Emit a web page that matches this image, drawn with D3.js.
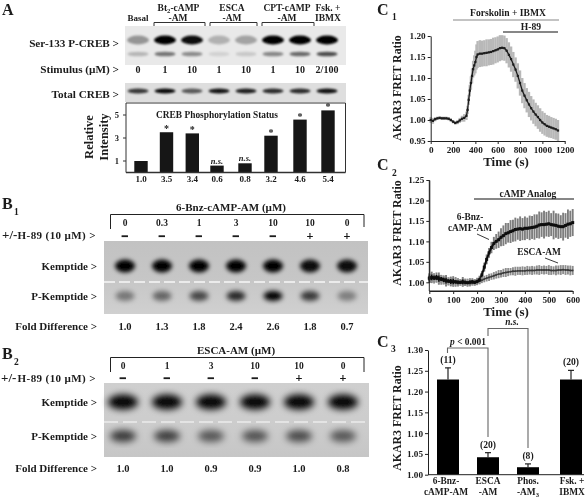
<!DOCTYPE html>
<html><head><meta charset="utf-8">
<script src="https://cdnjs.cloudflare.com/ajax/libs/d3/7.8.5/d3.min.js"></script>
<style>
html,body{margin:0;padding:0;background:#fff}
svg{display:block}
text{font-family:"Liberation Serif",serif;font-weight:700;fill:#1a1a1a}
</style></head><body><div id="c"></div>
<script>
// Panel A
const aGroups=["0","1","10","1","10","1","10","2/100"];
const aBars=[1.0,3.5,3.4,0.6,0.8,3.2,4.6,5.4];
const aBarLabels=["1.0","3.5","3.4","0.6","0.8","3.2","4.6","5.4"];
const aMarks=["","*","*","n.s.","n.s.","*","*","*"];
const aTicks=[1,3,5];
const pCrebUpper=[.36,1,.95,.24,.3,1,1,1];
const pCrebLower=[.22,.5,.4,.1,.14,.42,.55,.68];
const totalCreb=[.75,.95,.6,.9,.85,.8,.8,.92];
// Panel B
const b1Dose=["0","0.3","1","3","10","10","0"];
const b1H89=["\u2212","\u2212","\u2212","\u2212","\u2212","+","+"];
const b1Fold=["1.0","1.3","1.8","2.4","2.6","1.8","0.7"];
const b1Kemp=[1,1,1,1,1,.95,.95];
const b1PKemp=[.42,.5,.65,.8,1,.72,.38];
const b2Dose=["0","1","3","10","10","0"];
const b2H89=["\u2212","\u2212","\u2212","\u2212","+","+"];
const b2Fold=["1.0","1.0","0.9","0.9","1.0","0.8"];
const b2Kemp=[1,1,1,1,1,1];
const b2PKemp=[.72,.7,.58,.6,.64,.58];
// Panel C1
const c1Time=[0,20,40,60,80,100,120,140,160,180,200,220,240,260,280,300,320,330,340,350,360,370,380,390,400,410,420,440,460,480,500,520,540,560,580,600,620,640,660,680,700,720,740,760,780,800,820,840,860,880,900,920,940,960,980,1000,1020,1040,1060,1080,1100,1120,1140];
const c1Mean=[1.0,.998,1.002,1.004,1.005,1.004,1.004,1.004,1.003,1.0,.996,.993,.995,.999,1.003,1.005,1.01,1.024,1.048,1.07,1.088,1.105,1.121,1.13,1.138,1.15,1.156,1.158,1.158,1.159,1.16,1.161,1.162,1.164,1.166,1.168,1.171,1.172,1.171,1.165,1.155,1.145,1.132,1.12,1.105,1.088,1.07,1.058,1.047,1.037,1.028,1.02,1.013,1.007,1.0,.994,.99,.986,.984,.982,.98,.978,.975];
const c1Err=[.007,.007,.005,.004,.004,.004,.004,.004,.004,.004,.004,.004,.005,.006,.007,.009,.01,.01,.012,.014,.016,.018,.02,.024,.027,.03,.032,.032,.031,.031,.032,.031,.031,.032,.031,.031,.031,.03,.03,.03,.03,.03,.03,.029,.03,.03,.03,.03,.029,.03,.029,.029,.028,.028,.028,.027,.027,.026,.026,.025,.025,.025,.025];
const c1XTicks=[0,200,400,600,800,1000,1200];
const c1YTicks=[.95,1,1.05,1.1,1.15,1.2];
// Panel C2
const c2Time=[0,10,20,30,40,50,60,70,80,90,100,110,120,130,140,150,160,170,180,190,200,210,220,230,240,250,260,270,280,290,300,310,320,330,340,350,360,370,380,390,400,410,420,430,440,450,460,470,480,490,500,510,520,530,540,550,560,570,580,590,600];
const c2Bnz=[1.01,1.012,1.011,1.012,1.009,1.008,1.006,1.004,1.003,1.002,1.002,1.001,1,1,1.001,1,.999,1,1.001,1,1.002,1.006,1.018,1.037,1.056,1.072,1.085,1.095,1.1,1.104,1.11,1.114,1.119,1.121,1.124,1.126,1.129,1.13,1.131,1.13,1.132,1.132,1.133,1.134,1.135,1.137,1.14,1.141,1.141,1.142,1.143,1.141,1.14,1.139,1.137,1.136,1.136,1.139,1.142,1.143,1.146];
const c2BnzErr=[.012,.014,.011,.012,.015,.01,.011,.014,.009,.012,.013,.009,.01,.008,.012,.009,.008,.01,.009,.008,.009,.01,.01,.011,.012,.012,.014,.016,.018,.02,.022,.025,.026,.024,.028,.027,.029,.026,.03,.027,.029,.026,.03,.028,.031,.029,.033,.03,.034,.03,.032,.028,.035,.03,.031,.028,.034,.03,.036,.032,.033];
const c2Esca=[1.009,1.01,1.009,1.008,1.007,1.006,1.005,1.003,1.002,1.002,1.001,1.001,1,1,1,.999,.999,1,1,1,1.001,1.003,1.005,1.008,1.01,1.012,1.014,1.016,1.018,1.02,1.021,1.023,1.024,1.025,1.026,1.027,1.027,1.028,1.028,1.028,1.028,1.029,1.029,1.029,1.029,1.03,1.03,1.03,1.03,1.03,1.03,1.029,1.029,1.029,1.03,1.03,1.031,1.03,1.03,1.029,1.029];
const c2EscaErr=[.01,.01,.012,.009,.01,.012,.01,.009,.01,.008,.01,.012,.009,.008,.009,.008,.01,.008,.007,.008,.007,.008,.007,.008,.008,.009,.008,.009,.009,.01,.009,.01,.011,.01,.009,.01,.011,.01,.01,.011,.01,.011,.01,.011,.01,.011,.012,.01,.011,.01,.012,.011,.01,.012,.011,.012,.011,.012,.011,.012,.011];
const c2XTicks=[0,100,200,300,400,500,600];
const c2YTicks=[1,1.05,1.1,1.15,1.2,1.25];
// Panel C3
const c3Means=[1.229,1.042,1.018,1.229];
const c3Errs=[.028,.011,.008,.022];
const c3N=["(11)","(20)","(8)","(20)"];
const c3Line1=["6-Bnz-","ESCA","Phos.","Fsk. +"];
const c3Line2=["cAMP-AM","-AM","-AM3","IBMX"];
const c3YTicks=[1,1.05,1.1,1.15,1.2,1.25,1.3];

const svg=d3.select("#c").append("svg").attr("width",588).attr("height",498);
const defs=svg.append("defs");
[["b1",1.3],["b2",2.2],["b3",2.8],["b4",3.6],["soft",.32]].forEach(([id,s])=>{
  defs.append("filter").attr("id",id).attr("x","-50%").attr("y","-50%").attr("width","200%").attr("height","200%")
   .append("feGaussianBlur").attr("stdDeviation",s);
});
const root=svg.append("g").attr("filter","url(#soft)");
root.append("rect").attr("width",588).attr("height",498).attr("fill","#fff");

function T(x,y,s,size,anchor,opt){
  const t=root.append("text").attr("x",x).attr("y",y).attr("dy",".35em")
    .attr("font-size",size).attr("text-anchor",anchor||"middle");
  if(opt&&opt.italic)t.attr("font-style","italic");
  if(opt&&opt.rot)t.attr("transform",`rotate(-90,${x},${y})`);
  if(opt&&opt.ls)t.attr("letter-spacing",opt.ls);
  const m=s.match(/^(.*?)~(.+?)~(.*)$/);
  if(m){t.append("tspan").text(m[1]);
    t.append("tspan").attr("font-size",size*.7).attr("dy","1.8").text(m[2]);
    if(m[3])t.append("tspan").attr("dy","-1.8").text(m[3]);}
  else t.text(s);
  return t;
}
function Sign(x,y,s){const t=T(x,y,s,12);if(s!=="+")t.attr("stroke","#1a1a1a").attr("stroke-width",.9);else t.attr("stroke","#1a1a1a").attr("stroke-width",.2);}
function L(pts,color,w){root.append("path").attr("d",d3.line()(pts)).attr("fill","none").attr("stroke",color||"#222").attr("stroke-width",w||1.2);}

// ---------- Panel A
T(2,9,"A",16,"start");
T(138,18,"Basal",9);
T(178.5,8,"Bt~2~-cAMP",9.5);T(178,18,"-AM",9.5);
T(232,8,"ESCA",9.5);T(232,18,"-AM",9.5);
T(287,8,"CPT-cAMP",9.5);T(287,18,"-AM",9.5);
T(328,8,"Fsk. +",9.5);T(328,18,"IBMX",9.5);
[[154,205],[210,257],[262,314]].forEach(([a,b])=>L([[a,29],[a,22.5],[b,22.5],[b,29]],"#333",1));
T(119,43,"Ser-133 P-CREB >",11.2,"end");
T(119,69,"Stimulus (\u00b5M) >",11.2,"end");
T(119,94,"Total CREB >",11.2,"end");
const xBlotA=d3.scalePoint().domain(d3.range(8)).range([138,327]);
root.append("rect").attr("x",125).attr("y",26).attr("width",221).attr("height",39).attr("fill","#e9e9e9");
root.append("rect").attr("x",125).attr("y",83).attr("width",221).attr("height",19).attr("fill","#dedede");
function bands(vals,xs,cy,rx,ry,f){
  root.append("g").attr("filter",`url(#${f})`).selectAll("ellipse").data(vals).join("ellipse")
   .attr("cx",(d,i)=>xs(i)).attr("cy",cy).attr("rx",rx).attr("ry",ry).attr("fill","#000").attr("opacity",d=>d);
}
bands(pCrebUpper,xBlotA,40,11,4.4,"b1");
bands(pCrebLower,xBlotA,54,10.5,2.3,"b1");
bands(totalCreb,xBlotA,91,10.5,2.5,"b1");
aGroups.forEach((d,i)=>T(xBlotA(i),69,d,10));
// bar chart
const xA=d3.scaleLinear().domain(d3.range(8)).range([141,166.5,192.3,217,245,271,300,328]);
const yA=d3.scaleLinear().domain([0,5]).range([172.5,115]);
L([[126,172.5],[126,103],[345.5,103],[345.5,172.5]],"#333",1);
root.selectAll(".barA").data(aBars).join("rect").attr("class","barA")
  .attr("x",(d,i)=>xA(i)-6.7).attr("width",13.4).attr("y",d=>yA(d)).attr("height",d=>172.5-yA(d)).attr("fill","#141414");
L([[126,172.5],[345.5,172.5]],"#333",1.4);
aTicks.forEach(t=>{L([[123,yA(t)],[126,yA(t)]],"#333",1);T(119,yA(t),String(t),8.5,"end");});
aBarLabels.forEach((d,i)=>T(xA(i),179,d,9));
aMarks.forEach((m,i)=>{if(m==="*")T(xA(i),yA(aBars[i])-3.5,"*",10);else if(m)T(xA(i),yA(aBars[i])-5,m,8.5,"middle",{italic:true});});
T(217,115,"CREB Phosphorylation Status",9.4);
T(89,137,"Relative",12.5,"middle",{rot:true});
T(104,137,"Intensity",12.5,"middle",{rot:true});

// ---------- Panel B
function blot(x,y,w,h,top,bottom,id){
  const g=defs.append("linearGradient").attr("id",id).attr("x1",0).attr("y1",0).attr("x2",0).attr("y2",1);
  g.append("stop").attr("offset",0).attr("stop-color",top);
  g.append("stop").attr("offset",.5).attr("stop-color",d3.interpolateRgb(top,bottom)(.25));
  g.append("stop").attr("offset",1).attr("stop-color",bottom);
  root.append("rect").attr("x",x).attr("y",y).attr("width",w).attr("height",h).attr("fill",`url(#${id})`);
}
function dashes(y,x0,x1,dash,op){
  root.append("line").attr("x1",x0).attr("x2",x1).attr("y1",y).attr("y2",y).attr("stroke","#fff")
   .attr("stroke-width",1.6).attr("stroke-dasharray",dash).attr("opacity",op);
}
T(2,203,"B",16,"start");T(14,212,"1",9.5,"start");
T(231,207,"6-Bnz-cAMP-AM (\u00b5M)",11);
L([[110.5,229],[110.5,214.5],[364,214.5],[364,227]],"#222",1);
const xB1=d3.scalePoint().domain(d3.range(7)).range([125,347]);
b1Dose.forEach((d,i)=>T(xB1(i),223,d,9.5));
b1H89.forEach((d,i)=>Sign(xB1(i),236,d));
T(96,235,"H-89 (10 \u00b5M) >",11,"end",{ls:.4});
T(2,234,"+/-",13,"start");
blot(104,241,264,73,"#c2c2c2","#d0d0d0","gb1");
bands(b1Kemp,xB1,266,10,6.5,"b2");
bands(b1PKemp,xB1,296,9.5,5,"b3");
dashes(282,104,368,"11 4",.85);
T(97,266,"Kemptide >",11,"end");
T(97,296,"P-Kemptide >",11,"end");
T(97,326,"Fold Difference >",11,"end");
b1Fold.forEach((d,i)=>T(xB1(i),326,d,10.5));

T(2,353,"B",16,"start");T(14,362,"2",9.5,"start");
T(236,350,"ESCA-AM (\u00b5M)",11);
L([[110.5,372],[110.5,357.5],[364,357.5],[364,372]],"#222",1);
const xB2=d3.scalePoint().domain(d3.range(6)).range([123,343]);
b2Dose.forEach((d,i)=>T(xB2(i),366,d,9.5));
b2H89.forEach((d,i)=>Sign(xB2(i),378,d));
T(96,378,"H-89 (10 \u00b5M) >",11,"end",{ls:.4});
T(1,377,"+/-",13,"start");
blot(104,383,265,74,"#cfcfcf","#c6c6c6","gb2");
bands(b2Kemp,xB2,402,15,7.5,"b4");
bands(b2PKemp,xB2,436,13,6,"b4");
dashes(422,104,369,"14 5",.6);
T(97,402,"Kemptide >",11,"end");
T(97,436,"P-Kemptide >",11,"end");
T(97,468,"Fold Difference >",11,"end");
b2Fold.forEach((d,i)=>T(xB2(i),468,d,10.5));

// ---------- axis helper
function axis(scale,orient,ticks,fmt,tx,ty,size,tlen){
  const a=(orient==="l"?d3.axisLeft(scale):d3.axisBottom(scale)).tickValues(ticks).tickFormat(fmt).tickSize(tlen||3).tickPadding(2).tickSizeOuter(0);
  const g=root.append("g").attr("transform",`translate(${tx},${ty})`).call(a);
  g.selectAll("path,line").attr("stroke","#222").attr("stroke-width",1);
  g.selectAll("text").attr("font-size",size).attr("font-family","Liberation Serif").attr("font-weight",700).attr("fill","#1a1a1a");
  return g;
}
function series(time,mean,err,x,y,errColor,lineColor,lineW,errW,mark){
  const g=root.append("g");
  time.forEach((t,i)=>{
    g.append("line").attr("x1",x(t)).attr("x2",x(t)).attr("y1",y(mean[i]-err[i])).attr("y2",y(mean[i]+err[i])).attr("stroke",errColor).attr("stroke-width",errW);
  });
  const pts=time.map((t,i)=>[t,mean[i]]);
  g.append("path").attr("d",d3.line().x(d=>x(d[0])).y(d=>y(d[1]))(pts)).attr("fill","none").attr("stroke",lineColor).attr("stroke-width",lineW);
  g.selectAll("rect").data(pts).join("rect").attr("x",d=>x(d[0])-mark/2).attr("y",d=>y(d[1])-mark/2).attr("width",mark).attr("height",mark).attr("fill",lineColor);
}

// ---------- C1
T(377,9,"C",16,"start");T(392,17,"1",9.5,"start");
const xC1=d3.scaleLinear().domain([0,1200]).range([430.7,564.7]);
const yC1=d3.scaleLinear().domain([.95,1.2]).range([141,36]);
series(c1Time,c1Mean,c1Err,xC1,yC1,"#b8b8b8","#1c1c1c",1.3,2.4,2.2);
axis(xC1,"b",c1XTicks,d3.format("d"),0,141,9.2);
axis(yC1,"l",c1YTicks,d3.format(".2f"),430.7,0,9.2);
T(397,88,"AKAR3 FRET Ratio",11.8,"middle",{rot:true});
T(506,161,"Time (s)",13);
T(508,13,"Forskolin + IBMX",9.6);
L([[453,20],[559,20]],"#888",1.2);
T(531,27,"H-89",9.6);
L([[503,32],[558,32]],"#111",1.1);

// ---------- C2
T(377,164,"C",16,"start");T(392,173,"2",9.5,"start");
const xC2=d3.scaleLinear().domain([0,600]).range([429.3,572.7]);
const yC2=d3.scaleLinear().domain([1,1.25]).range([282.3,180]);
series(c2Time,c2Bnz,c2BnzErr,xC2,yC2,"#7d7d7d","#111",2,1.9,3);
series(c2Time,c2Esca,c2EscaErr,xC2,yC2,"#8e8e8e","#3a3a3a",1.4,1.9,1.6);
series(c2Time.slice(0,22),c2Bnz.slice(0,22),c2BnzErr.slice(0,22).map(d=>d*.5),xC2,yC2,"#111","#111",2.4,1.6,2.6);
root.append("line").attr("x1",429.3).attr("x2",429.3).attr("y1",180).attr("y2",291).attr("stroke","#222");
root.append("line").attr("x1",429.3).attr("x2",572.7).attr("y1",291).attr("y2",291).attr("stroke","#222");
axis(xC2,"b",c2XTicks,d3.format("d"),0,291,9.2);
axis(yC2,"l",c2YTicks,d3.format(".2f"),429.3,0,9.2);
T(397,233,"AKAR3 FRET Ratio",11.8,"middle",{rot:true});
T(506,311.5,"Time (s)",13);
T(528,194,"cAMP Analog",9.6);
L([[474,199],[574,199]],"#111",1.1);
T(470,217,"6-Bnz-",9.4);T(470,228,"cAMP-AM",9.4);
L([[477,234],[489,239.5]],"#222",.9);
T(539,252,"ESCA-AM",9.4);
L([[545,258],[558,263]],"#222",.9);

// ---------- C3
T(377,341,"C",16,"start");T(391,349,"3",9.5,"start");
const xC3=d3.scaleLinear().domain(d3.range(4)).range([448,488,528,571]);
const yC3=d3.scaleLinear().domain([1,1.3]).range([474.7,350]);
c3Means.forEach((m,i)=>L([[xC3(i),yC3(m)],[xC3(i),yC3(m+c3Errs[i])]],"#222",1.2));
c3Means.forEach((m,i)=>L([[xC3(i)-3,yC3(m+c3Errs[i])],[xC3(i)+3,yC3(m+c3Errs[i])]],"#222",1.2));
root.selectAll(".barC").data(c3Means).join("rect").attr("class","barC")
  .attr("x",(d,i)=>xC3(i)-11).attr("width",22).attr("y",d=>yC3(d)).attr("height",d=>474.7-yC3(d)).attr("fill","#000");
axis(yC3,"l",c3YTicks,d3.format(".2f"),428,0,9.2);
L([[428,474.7],[584,474.7]],"#222",1);
c3N.forEach((n,i)=>T(xC3(i),yC3(c3Means[i]+c3Errs[i])-8.5,n,9.6));
c3Line1.forEach((s,i)=>T(xC3(i)-(i==0?2:0)+(i==3?1:0),481,s,9.4));
c3Line2.forEach((s,i)=>T(xC3(i)-(i==0?2:0)+(i==3?1:0),491.5,s==="-AM3"?"-AM~3~":s,9.4));
T(397,418,"AKAR3 FRET Ratio",11.8,"middle",{rot:true});
L([[447.5,353],[447.5,348],[488,348],[488,437]],"#666",1.1);
L([[488,336],[488,328.5],[528,328.5],[528,448]],"#666",1.1);
const pt=T(468,342,"",9.4);
pt.append("tspan").attr("font-style","italic").text("p");
pt.append("tspan").text(" < 0.001");
T(512,322,"n.s.",9.4,"middle",{italic:true});
</script></body></html>
